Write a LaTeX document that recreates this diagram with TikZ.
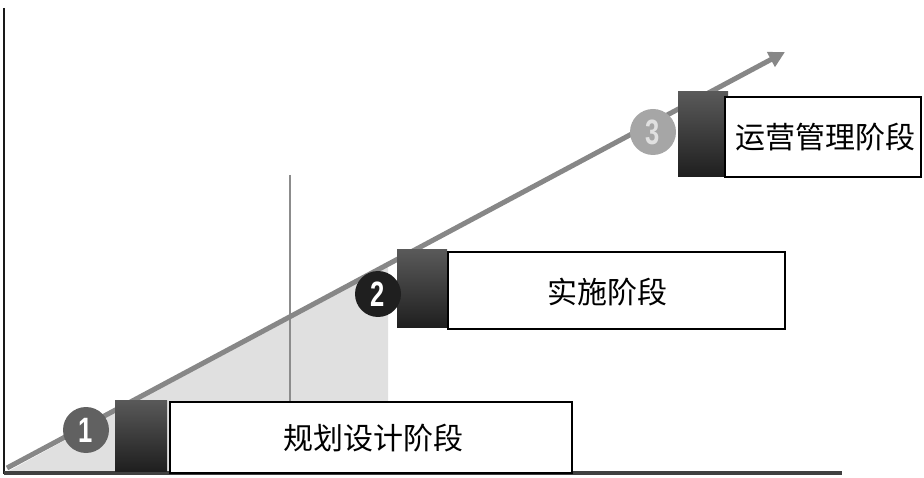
\documentclass[tikz,border=0pt]{standalone}
\usepackage{fontspec}
\newfontfamily\cjk{Noto Sans CJK SC}
\newfontfamily\numfont{Liberation Sans}
\usetikzlibrary{arrows.meta}
\begin{document}
\begin{tikzpicture}[x=1pt,y=-1pt,
  darkbox/.style={draw=none,top color=black!65,bottom color=black!88},
  labelbox/.style={draw=black,line width=2pt,fill=white,inner sep=0pt},
  numcirc/.style={circle,minimum size=46pt,inner sep=0pt,font=\numfont\bfseries\fontsize{32}{32}\selectfont,text=white},
  stagetext/.style={font=\cjk\fontsize{30}{30}\selectfont}]
\useasboundingbox (0,0) rectangle (924,478);
% shaded region
\fill[black!12] (5,473) -- (388,264) -- (388,473) -- cycle;
% thin vertical line
\draw[black!45,line width=1.2pt] (290,175) -- (290,473);
% axes
\draw[black!90,line width=2.5pt] (4,8) -- (4,474);
\draw[black!75,line width=4pt] (4,473) -- (842,473);
% diagonal arrow
\coordinate (s) at (7,468);
\coordinate (e) at (785,52);
\draw[black!47,line width=5pt,-{Triangle[length=16pt,width=16pt]}] (s) -- (e);
% stage 1
\fill[darkbox] (115,400) rectangle (167,471);
\draw[labelbox] (170,402) rectangle (572,473);
\node[stagetext] (t1) at (373,438) {规划设计阶段};
\node[numcirc,fill=black!62] (c1) at (86,430) {\scalebox{0.8}[1.1]{1}};
% stage 2
\fill[darkbox] (397,250) rectangle (447,328);
\draw[labelbox] (448,252) rectangle (785,329);
\node[stagetext] (t2) at (607,292) {实施阶段};
\node[numcirc,fill=black!88] (c2) at (378,294) {\scalebox{0.8}[1.1]{2}};
% stage 3
\fill[darkbox] (678,92) rectangle (728,177);
\draw[labelbox] (725,97) rectangle (921,177);
\node[stagetext] (t3) at (825,137) {运营管理阶段};
\node[numcirc,fill=black!35,text=black!12] (c3) at (653,132) {\scalebox{0.8}[1.1]{3}};
\end{tikzpicture}
\end{document}
